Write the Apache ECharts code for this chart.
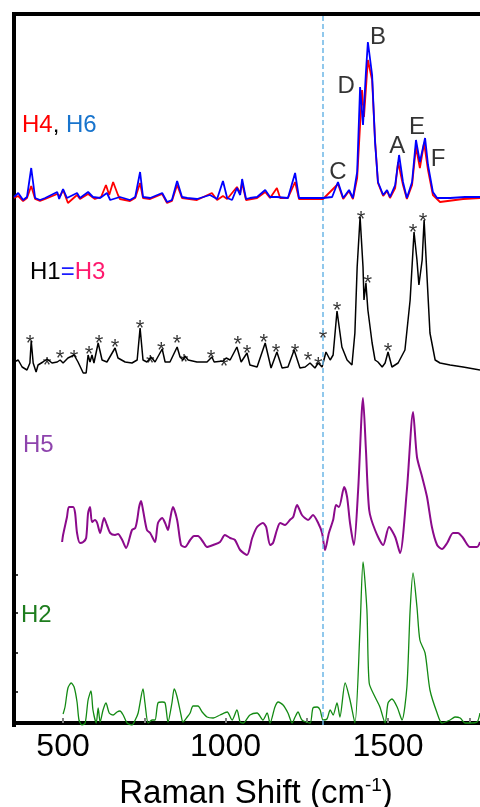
<!doctype html>
<html>
<head>
<meta charset="utf-8">
<title>Raman</title>
<script src="https://cdn.jsdelivr.net/npm/echarts@6/dist/echarts.min.js"></script>
<style>
  html, body { margin: 0; padding: 0; background: #fff; }
  #container { width: 480px; height: 807px; }
</style>
</head>
<body>
<div id="container"></div>
<script type="text/javascript">
// Raman shift (cm-1) / intensity pairs, relative to each trace's baseline
var h6 = [[349,3],[352,4],[362,7],[377,0],[389,3],[402,32],[414,2],[429,0],[445,2],[482,8],[488,1],[500,11],[512,2],[543,7],[552,2],[577,8],[592,3],[614,2],[635,7],[645,0],[675,3],[706,0],[722,3],[737,28],[746,3],[768,2],[805,7],[820,-2],[835,0],[851,19],[866,3],[882,2],[912,1],[952,5],[974,1],[992,19],[1005,2],[1020,0],[1035,12],[1045,5],[1051,21],[1063,1],[1075,2],[1097,3],[1122,10],[1137,3],[1158,3],[1192,2],[1214,27],[1226,2],[1266,2],[1300,2],[1328,3],[1346,18],[1362,2],[1380,10],[1392,2],[1405,28],[1414,113],[1423,75],[1432,128],[1438,158],[1451,125],[1460,58],[1469,18],[1475,18],[1485,5],[1497,10],[1506,3],[1522,15],[1534,45],[1546,18],[1558,2],[1574,18],[1586,60],[1598,38],[1614,62],[1623,35],[1638,8],[1651,2],[1691,2],[1737,3],[1783,3]];
var h4 = [[349,2],[362,4],[377,-1],[389,2],[402,14],[414,1],[429,-1],[445,1],[482,6],[491,4],[500,10],[515,-3],[543,5],[552,1],[577,6],[598,1],[617,3],[632,15],[642,5],[654,18],[669,5],[675,1],[706,-1],[722,2],[737,17],[746,2],[768,1],[805,6],[820,-3],[835,-1],[851,15],[866,2],[912,0],[958,7],[974,0],[992,4],[1005,1],[1035,13],[1045,7],[1051,17],[1063,0],[1097,2],[1122,8],[1137,2],[1158,12],[1168,2],[1192,2],[1214,18],[1226,1],[1266,1],[1300,1],[1346,16],[1362,1],[1380,9],[1392,1],[1405,22],[1420,110],[1426,83],[1438,140],[1451,120],[1460,60],[1469,17],[1475,17],[1485,4],[1497,9],[1506,2],[1522,12],[1531,38],[1546,15],[1558,1],[1574,15],[1586,53],[1598,32],[1611,57],[1623,30],[1638,5],[1660,-2],[1731,1],[1783,2]];
var h1 = [[349,10],[352,10],[362,12],[374,5],[389,2],[398,9],[402,31],[408,9],[417,0],[423,7],[438,10],[451,13],[466,9],[482,10],[491,12],[500,9],[515,14],[534,17],[546,10],[562,-1],[571,-1],[577,17],[583,10],[589,17],[595,9],[608,29],[620,12],[635,10],[660,24],[669,14],[691,10],[712,9],[728,12],[737,44],[746,12],[758,10],[771,15],[783,10],[805,23],[814,10],[829,10],[851,25],[860,15],[869,12],[875,16],[885,12],[912,10],[943,10],[958,15],[965,10],[992,11],[1002,14],[1014,12],[1035,25],[1048,10],[1066,19],[1075,7],[1097,5],[1122,29],[1140,4],[1158,20],[1174,4],[1192,5],[1211,22],[1229,4],[1245,5],[1260,9],[1275,4],[1285,9],[1297,5],[1309,20],[1322,12],[1331,17],[1343,61],[1358,25],[1374,12],[1389,7],[1398,39],[1405,105],[1414,155],[1423,105],[1426,72],[1432,89],[1438,62],[1451,29],[1460,12],[1469,10],[1482,5],[1491,9],[1500,20],[1512,5],[1531,9],[1552,22],[1568,72],[1580,140],[1589,112],[1595,87],[1605,112],[1611,152],[1620,95],[1629,39],[1645,12],[1660,9],[1691,7],[1731,5],[1783,2]];
var h5 = [[497,13],[500,20],[512,38],[518,48],[531,48],[537,42],[543,22],[552,12],[562,13],[571,17],[577,42],[583,48],[589,33],[598,35],[605,32],[614,22],[626,37],[635,30],[645,22],[660,20],[669,21],[682,15],[694,7],[712,25],[722,27],[728,35],[734,48],[740,54],[746,45],[758,25],[768,22],[783,13],[792,32],[805,37],[814,32],[823,25],[829,35],[838,48],[851,35],[863,10],[875,8],[891,15],[903,19],[915,19],[931,13],[943,8],[962,10],[983,13],[998,20],[1014,17],[1029,15],[1045,5],[1066,0],[1082,17],[1097,28],[1115,32],[1125,28],[1137,10],[1146,12],[1158,25],[1168,32],[1183,30],[1198,35],[1208,38],[1220,50],[1235,40],[1254,35],[1269,40],[1285,32],[1297,22],[1306,5],[1318,22],[1331,35],[1340,50],[1349,48],[1365,68],[1374,58],[1383,32],[1395,10],[1408,65],[1423,157],[1432,105],[1442,45],[1460,25],[1485,10],[1503,28],[1522,18],[1537,2],[1558,65],[1577,143],[1589,98],[1605,78],[1620,58],[1635,28],[1651,10],[1666,6],[1682,12],[1700,22],[1715,22],[1731,17],[1752,8],[1774,8],[1783,13]];
var h2 = [[500,9],[506,16],[515,35],[525,40],[534,36],[543,21],[549,3],[558,-2],[568,0],[577,23],[586,32],[592,13],[602,0],[608,15],[614,1],[623,13],[632,20],[642,10],[654,8],[666,11],[675,12],[685,8],[697,0],[712,-2],[722,3],[731,10],[746,34],[752,20],[762,0],[774,3],[783,3],[792,20],[805,21],[814,20],[823,1],[835,20],[842,34],[851,26],[863,8],[869,1],[882,6],[891,10],[900,17],[915,17],[928,11],[943,6],[962,5],[983,8],[1005,11],[1020,3],[1035,13],[1045,1],[1054,0],[1075,8],[1097,10],[1115,3],[1128,10],[1137,0],[1152,16],[1162,21],[1177,18],[1192,10],[1205,0],[1214,6],[1223,11],[1235,3],[1260,0],[1269,15],[1282,16],[1291,13],[1300,3],[1312,4],[1322,13],[1331,8],[1343,20],[1352,6],[1368,40],[1383,23],[1398,0],[1414,96],[1423,161],[1435,113],[1442,40],[1460,26],[1475,16],[1491,0],[1500,20],[1512,24],[1528,16],[1543,3],[1558,36],[1568,113],[1577,150],[1589,116],[1598,83],[1614,70],[1629,33],[1651,10],[1666,0],[1691,3],[1706,6],[1722,5],[1737,0],[1752,0],[1774,1],[1783,10]];

// vertical stacking offsets
var offsets = { h2: 0, h5: 168, h1: 351, h4: 523, h6: 523 };

// asterisks over the H1 bands (shift, height on the stacked axis)
var stars = [[398,386],[451,364],[491,371],[534,371],[580,375],[611,386],[660,382],[737,401],[768,366],[802,379],[851,386],[872,367],[955,371],[995,363],[1038,385],[1066,376],[1118,387],[1155,377],[1214,377],[1254,369],[1285,364],[1300,391],[1343,419],[1417,510],[1438,446],[1500,378],[1577,497],[1608,508]];

// band letters on the H4/H6 trace
var bands = [['B',1469,686],['D',1371,637],['A',1528,577],['E',1589,596],['F',1654,564],['C',1346,551]];

var tickValues = [500, 750, 1000, 1250, 1500, 1750];
var tickLabels = [500, 1000, 1500];
var markerShift = 1300;

function shift(arr, off) {
  return arr.map(function (p) { return [p[0], p[1] + off]; });
}

var font = 'Liberation Sans, Arial, sans-serif';
var dom = document.getElementById('container');
var myChart = echarts.init(dom);

function trace(name, arr, off, color, width, smooth) {
  return {
    name: name,
    type: 'line',
    data: shift(arr, off),
    showSymbol: false,
    smooth: smooth,
    lineStyle: { color: color, width: width },
    itemStyle: { color: color },
    silent: true,
    clip: true
  };
}

var option = {
  animation: false,
  grid: { left: 14, right: 0, top: 14, bottom: 82, containLabel: false, outerBoundsMode: 'none' },
  xAxis: [{
    type: 'value',
    min: 349,
    max: 1783,
    axisLine: { show: true, lineStyle: { color: '#000', width: 4, cap: 'square' } },
    axisTick: { show: true, inside: true, length: 5, customValues: tickValues,
      lineStyle: { color: '#808080', width: 2 } },
    axisLabel: { customValues: tickLabels, color: '#000', fontSize: 32, fontFamily: font, margin: 6,
      formatter: function (v) { return String(v); } },
    splitLine: { show: false },
    name: '{a|Raman Shift (cm}{s|-1}{a|)}',
    nameLocation: 'middle',
    nameGap: 51,
    nameTextStyle: {
      padding: [0, 0, 0, 18],
      rich: {
        a: { fontSize: 33, fontFamily: font, color: '#000' },
        s: { fontSize: 19, fontFamily: font, color: '#000', padding: [0, 0, 16, 0] }
      }
    }
  }, {
    type: 'value',
    position: 'top',
    min: 349,
    max: 1783,
    axisLine: { show: true, lineStyle: { color: '#000', width: 4, cap: 'square' } },
    axisTick: { show: false },
    axisLabel: { show: false },
    splitLine: { show: false }
  }],
  yAxis: {
    type: 'value',
    min: -2,
    max: 709,
    axisLine: { show: true, lineStyle: { color: '#000', width: 4, cap: 'square' } },
    axisTick: { show: true, inside: true, length: 4, customValues: [31, 70, 110, 148],
      lineStyle: { color: '#000', width: 1.5 } },
    axisLabel: { show: false },
    splitLine: { show: false }
  },
  graphic: [
    { type: 'text', left: 22, top: 113, style: {
      text: '{r|H4}{k|, }{b|H6}',
      rich: {
        r: { fontSize: 24, fontFamily: font, fill: '#ff0000' },
        k: { fontSize: 24, fontFamily: font, fill: '#000' },
        b: { fontSize: 24, fontFamily: font, fill: '#1874cd' }
      } } },
    { type: 'text', left: 30, top: 260, style: {
      text: '{k|H1}{b|=}{p|H3}',
      rich: {
        k: { fontSize: 24, fontFamily: font, fill: '#000' },
        b: { fontSize: 24, fontFamily: font, fill: '#1a1aff' },
        p: { fontSize: 24, fontFamily: font, fill: '#ff1a6e' }
      } } },
    { type: 'text', left: 23, top: 433, style: { text: 'H5', fontSize: 24, fontFamily: font, fill: '#8e44ad' } },
    { type: 'text', left: 21, top: 603, style: { text: 'H2', fontSize: 24, fontFamily: font, fill: '#1e7d1e' } }
  ],
  series: [
    (function () {
      var s = trace('H2', h2, offsets.h2, '#138a13', 1.3, 0.25);
      s.markLine = {
        silent: true,
        symbol: 'none',
        label: { show: false },
        lineStyle: { color: '#6cb6e6', type: [5, 3], width: 1.5 },
        data: [{ xAxis: markerShift }]
      };
      return s;
    })(),
    trace('H5', h5, offsets.h5, '#8b0a8b', 2, 0.25),
    trace('H1', h1, offsets.h1, '#000000', 1.5, false),
    trace('H4', h4, offsets.h4, '#ff0000', 1.8, false),
    trace('H6', h6, offsets.h6, '#0000ff', 1.8, false),
    {
      name: 'stars',
      type: 'scatter',
      data: stars,
      symbolSize: 0,
      silent: true,
      label: { show: true, position: 'inside', formatter: '*', color: '#000',
        fontSize: 22, fontFamily: font, offset: [0, 7] }
    },
    {
      name: 'bands',
      type: 'scatter',
      data: bands.map(function (b) { return { name: b[0], value: [b[1], b[2]] }; }),
      symbolSize: 0,
      silent: true,
      label: { show: true, position: 'inside', formatter: '{b}', color: '#000',
        fontSize: 24, fontFamily: font }
    }
  ]
};

myChart.setOption(option);
</script>
</body>
</html>
